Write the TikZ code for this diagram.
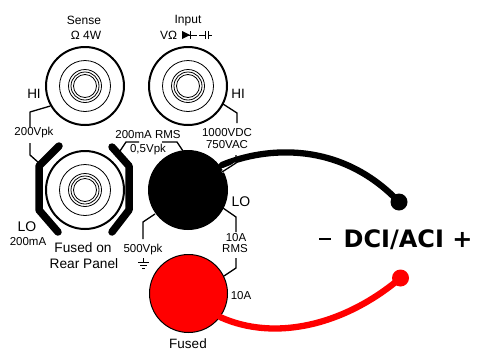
\documentclass[tikz,border=0pt]{standalone}
\usepackage{fontspec}
\setmainfont{Liberation Sans}
\newfontfamily\boldlab[BoldFont={DejaVu Sans Bold}]{DejaVu Sans}
\tikzset{
  px/.style={x=1pt,y=-1pt},
  lab/.style={inner sep=0pt,font=\fontsize{#1}{#1}\selectfont,align=center},
  lab/.default=12,
  jackouter/.style={circle,draw=black,line width=2pt,minimum size=78pt,inner sep=0pt,fill=white},
  ring/.style={draw=black,line width=0.8pt},
  lead/.style={draw=black,line width=1.3pt,line join=round},
  bracket/.style={draw=black,line width=7.5pt,line cap=round,line join=round},
  wire/.style={line width=6.3pt,line cap=round},
}
\newcommand{\jackrings}[1]{
  \draw[ring] (#1) circle[radius=25.5];
  \draw[ring] (#1) circle[radius=16.5];
  \draw[ring] (#1) circle[radius=14];
  \draw[ring] (#1) circle[radius=11.5];
}
\begin{document}
\begin{tikzpicture}[px]
\useasboundingbox (0,0) rectangle (478,351);
% connector free ends
\coordinate (s1) at (30,112); \coordinate (s2) at (30,127);
\coordinate (s3) at (30,143); \coordinate (s4) at (30,155); \coordinate (s5) at (39,163);
\coordinate (r1) at (120,151); \coordinate (r2) at (126,142); \coordinate (r3) at (139,142);
\coordinate (r4) at (162,142); \coordinate (r5) at (177,142); \coordinate (r6) at (183,151);
\coordinate (i1) at (223,104); \coordinate (i2) at (237,113); \coordinate (i3) at (237,123);
\coordinate (i4) at (236,155); \coordinate (i5) at (236,163); \coordinate (i6) at (222,172);
\coordinate (l1) at (223,208); \coordinate (l2) at (236,217); \coordinate (l3) at (236,232);
\coordinate (l4) at (236,258); \coordinate (l5) at (236,268); \coordinate (l6) at (224,276);
\coordinate (p1) at (155,214); \coordinate (p2) at (143,222); \coordinate (p3) at (143,239);
% jacks
\node[jackouter] (sense) at (85,86) {};
\node[jackouter] (input) at (188,86) {};
\node[jackouter] (rear) at (85,190) {};
\node[jackouter,fill=black] (black) at (188,190) {};
\node[jackouter,fill=red,line width=1pt] (red) at (188.5,293.5) {};
\jackrings{sense}\jackrings{input}\jackrings{rear}
% brackets
\draw[bracket] (59,146) -- (39,166) -- (39,210) -- (58,232);
\draw[bracket] (112,147) -- (129,166) -- (129,210) -- (112,232);
% leads
\draw[lead] (sense.-150) -- (s1) -- (s2);
\draw[lead] (s3) -- (s4) -- (s5);
\draw[lead] (r1) -- (r2) -- (r3);
\draw[lead] (r4) -- (r5) -- (r6);
\draw[lead] (i1) -- (i2) -- (i3);
\draw[lead] (l1) -- (l2) -- (l3);
\draw[lead] (l4) -- (l5) -- (l6);
\draw[lead] (p1) -- (p2) -- (p3);
% wires
\node[circle,fill=black,minimum size=17pt,inner sep=0pt] (bdot) at (399,202) {};
\node[circle,fill=red,minimum size=17pt,inner sep=0pt] (rdot) at (400.5,278) {};
\draw[wire,black] (222,165) .. controls (265,147) and (340,140) .. (bdot.center);
\draw[wire,red] (220,317) .. controls (275,342) and (345,325) .. (rdot.center);
\draw[draw=white,line width=2.2pt] (i5) -- (i6);
\draw[lead] (i4) -- (i5) -- (i6);
% ground
\coordinate (g0) at (143,258);
\draw[lead,line width=0.9pt] (g0) -- (143,262);
\draw[lead,line width=0.9pt] (138,262) -- (149,262);
\draw[lead,line width=0.9pt] (140,265) -- (147,265);
\draw[lead,line width=0.9pt] (142,268) -- (145,268);
% labels
\node[lab] (t1) at (84,20) {Sense};
\node[lab] (t2) at (86,35) {Ω 4W};
\node[lab] (t3) at (188,20.5) {Input};
\node[lab,anchor=west] (t4) at (160,35) {VΩ};
\node[lab=13.5] (h1) at (34,94) {HI};
\node[lab=13.5] (h2) at (238,94) {HI};
\node[lab=11.5] (v1) at (34,132.5) {200Vpk};
\node[lab=11.5] (v2) at (148,135) {200mA RMS};
\node[lab=11.5] (v3) at (148,150) {0,5Vpk};
\node[lab=11.5] (v4) at (227,133) {1000VDC};
\node[lab=11.5] (v5) at (227,145) {750VAC};
\node[lab=14] (lo1) at (27,227) {LO};
\node[lab=11.5] (ma) at (28,241.5) {200mA};
\node[lab=13.7] (fu1) at (83,248) {Fused on};
\node[lab=13.7] (fu2) at (84,264) {Rear Panel};
\node[lab=11.5] (v6) at (143,250) {500Vpk};
\node[lab=14] (lo2) at (241,202) {LO};
\node[lab=11.5] (a1) at (236,238) {10A};
\node[lab=11.5] (a2) at (235,249) {RMS};
\node[lab=11.5] (a3) at (241,296) {10A};
\node[lab=13.5] (fu3) at (188,343.5) {Fused};
\node[inner sep=0pt,font=\boldlab\bfseries\fontsize{24}{24}\selectfont] (dci) at (408,240) {DCI/ACI +};
\draw[line width=1.3pt] (319,239) -- (331,239);
% diode and capacitor symbols
\fill (182,31) -- (182,39) -- (190,35) -- cycle;
\draw[line width=0.8pt] (190,31) -- (190,39);
\draw[line width=0.8pt] (182,35) -- (197,35);
\draw[line width=0.8pt] (199,35) -- (205,35) (205,31) -- (205,39) (208,31) -- (208,39) (208,35) -- (212,35);
\end{tikzpicture}
\end{document}
